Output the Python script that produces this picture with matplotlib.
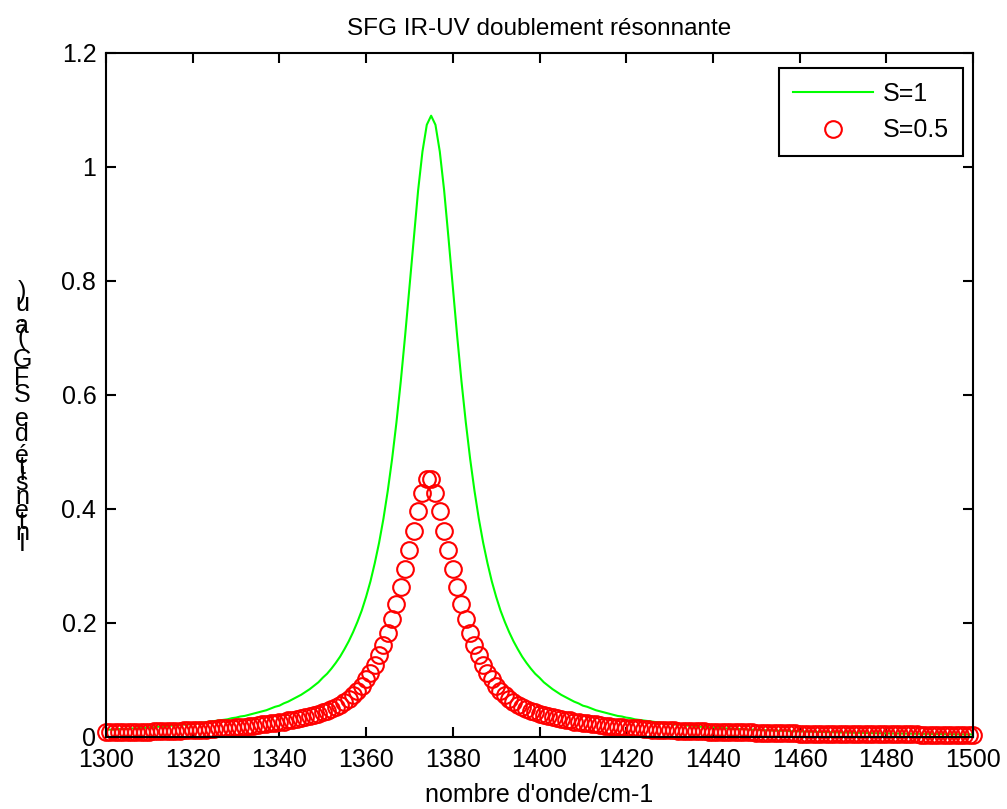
import numpy as np
import matplotlib.pyplot as plt
from matplotlib.font_manager import FontProperties

plt.rcParams['font.family'] = ['Liberation Sans', 'DejaVu Sans']

# nombre d'onde (cm-1), pas de 1
nombre_onde = np.arange(1300, 1501)

# intensite SFG pour S=1 (trait vert)
intensite_s1 = [
    0.013, 0.013, 0.013, 0.014, 0.014,
    0.014, 0.015, 0.015, 0.016, 0.016, 0.017, 0.017, 0.018, 0.018, 0.019,
    0.020, 0.020, 0.021, 0.022, 0.022, 0.023, 0.024, 0.025, 0.026, 0.027,
    0.028, 0.029, 0.030, 0.031, 0.033, 0.034, 0.036, 0.037, 0.039, 0.041,
    0.043, 0.045, 0.047, 0.050, 0.053, 0.055, 0.059, 0.062, 0.066, 0.070,
    0.074, 0.079, 0.084, 0.090, 0.096, 0.104, 0.111, 0.120, 0.130, 0.141,
    0.154, 0.168, 0.184, 0.202, 0.222, 0.246, 0.273, 0.305, 0.341, 0.383,
    0.432, 0.488, 0.552, 0.624, 0.704, 0.789, 0.876, 0.959, 1.027, 1.074,
    1.090,
    1.074, 1.027, 0.959, 0.876, 0.789, 0.704, 0.624, 0.552, 0.488, 0.432,
    0.383, 0.341, 0.305, 0.273, 0.246, 0.222, 0.202, 0.184, 0.168, 0.154,
    0.141, 0.130, 0.120, 0.111, 0.104, 0.096, 0.090, 0.084, 0.079, 0.074,
    0.070, 0.066, 0.062, 0.059, 0.055, 0.053, 0.050, 0.047, 0.045, 0.043,
    0.041, 0.039, 0.037, 0.036, 0.034, 0.033, 0.031, 0.030, 0.029, 0.028,
    0.027, 0.026, 0.025, 0.024, 0.023, 0.022, 0.022, 0.021, 0.020, 0.020,
    0.019, 0.018, 0.018, 0.017, 0.017, 0.016, 0.016, 0.015, 0.015, 0.014,
    0.014, 0.014, 0.013, 0.013, 0.013, 0.012, 0.012, 0.012, 0.011, 0.011,
    0.011, 0.011, 0.010, 0.010, 0.010, 0.0096, 0.0094, 0.0092, 0.0090, 0.0088,
    0.0086, 0.0084, 0.0082, 0.0080, 0.0079, 0.0077, 0.0075, 0.0074, 0.0072, 0.0071,
    0.0070, 0.0068, 0.0067, 0.0065, 0.0064, 0.0063, 0.0062, 0.0061, 0.0060, 0.0059,
    0.0058, 0.0057, 0.0056, 0.0055, 0.0054, 0.0053, 0.0052, 0.0051, 0.0050, 0.0049,
    0.0048, 0.0048, 0.0047, 0.0046, 0.0046,
]

# intensite SFG pour S=0.5 (cercles rouges)
intensite_s05 = [
    0.008, 0.008, 0.008, 0.008, 0.008, 0.008, 0.009, 0.009, 0.009, 0.009,
    0.009, 0.010, 0.010, 0.010, 0.010, 0.011, 0.011, 0.011, 0.012, 0.012,
    0.012, 0.013, 0.013, 0.013, 0.014, 0.014, 0.015, 0.015, 0.016, 0.016,
    0.017, 0.018, 0.018, 0.019, 0.020, 0.021, 0.022, 0.023, 0.024, 0.025,
    0.026, 0.027, 0.029, 0.030, 0.032, 0.033, 0.035, 0.037, 0.039, 0.041,
    0.043, 0.046, 0.049, 0.053, 0.057, 0.062, 0.067, 0.074, 0.081, 0.090,
    0.101, 0.113, 0.127, 0.143, 0.161, 0.183, 0.207, 0.234, 0.263, 0.295,
    0.328, 0.361, 0.396, 0.428, 0.452,
    0.452, 0.428, 0.396, 0.361, 0.328, 0.295, 0.263, 0.234, 0.207, 0.183,
    0.161, 0.143, 0.127, 0.113, 0.101, 0.090, 0.081, 0.074, 0.067, 0.062,
    0.057, 0.053, 0.049, 0.046, 0.043, 0.041, 0.039, 0.037, 0.035, 0.033,
    0.032, 0.030, 0.029, 0.027, 0.026, 0.025, 0.024, 0.023, 0.022, 0.021,
    0.020, 0.019, 0.018, 0.018, 0.017, 0.016, 0.016, 0.015, 0.015, 0.014,
    0.014, 0.013, 0.013, 0.013, 0.012, 0.012, 0.012, 0.011, 0.011, 0.011,
    0.010, 0.010, 0.010, 0.010, 0.009, 0.009, 0.009, 0.009, 0.009, 0.008,
    0.008, 0.008, 0.008, 0.008, 0.008, 0.007, 0.007, 0.007, 0.007, 0.007,
    0.007, 0.007, 0.007, 0.007, 0.007, 0.006, 0.006, 0.006, 0.006, 0.006,
    0.006, 0.006, 0.006, 0.006, 0.006, 0.006, 0.006, 0.006, 0.005, 0.005,
    0.005, 0.005, 0.005, 0.005, 0.005, 0.005, 0.005, 0.005, 0.005, 0.005,
    0.005, 0.005, 0.005, 0.004, 0.004, 0.004, 0.004, 0.004, 0.004, 0.004,
    0.004, 0.004, 0.004, 0.004, 0.004, 0.004,
]

x_ticks = [1300, 1320, 1340, 1360, 1380, 1400, 1420, 1440, 1460, 1480, 1500]
y_ticks = [0, 0.2, 0.4, 0.6, 0.8, 1.0, 1.2]
y_tick_labels = ['0', '0.2', '0.4', '0.6', '0.8', '1', '1.2']

titre = "SFG IR-UV doublement résonnante"
label_x = "nombre d'onde/cm-1"
label_y = "Intensité de SFG (a.u)"

W, H = 1007, 809
fig = plt.figure(figsize=(W / 100, H / 100), dpi=100, facecolor='white')
ax = fig.add_axes([106 / W, 1 - 737 / H, 867 / W, 684 / H])

ax.plot(nombre_onde, intensite_s1, color='#00ff00', lw=1.5, label='S=1')
ax.plot(nombre_onde, intensite_s05, ls='none', marker='o', ms=12,
        mfc='none', mec='#ff0000', mew=1.5, label='S=0.5', clip_on=False)

ax.set_xlim(1300, 1500)
ax.set_ylim(0, 1.2)
ax.set_xticks(x_ticks)
ax.set_yticks(y_ticks)
ax.set_yticklabels(y_tick_labels)

# style "boite" avec graduations vers l'interieur sur les quatre cotes
for s in ax.spines.values():
    s.set_linewidth(1.5)
    s.set_color('black')
ax.tick_params(direction='in', length=7, width=1.5, top=True, right=True,
               labelsize=18, colors='black')
ax.tick_params(axis='x', pad=8)
ax.tick_params(axis='y', pad=7)

ax.set_title(titre, fontsize=17.5, pad=13)
ax.set_xlabel(label_x, fontsize=18, labelpad=8)

leg = ax.legend(loc='upper right', bbox_to_anchor=(0.9885, 0.978),
                borderaxespad=0, fontsize=18, handlelength=3.2,
                handletextpad=0.4, labelspacing=0.5, borderpad=0.55,
                numpoints=1, fancybox=False, framealpha=1)
leg.get_frame().set_edgecolor('black')
leg.get_frame().set_linewidth(1.5)

# label y: lettres droites empilees de bas en haut
fp = FontProperties(family='Liberation Sans', size=18)
renderer = fig.canvas.get_renderer()
w_ref = renderer.get_text_width_height_descent('I', fp, ismath=False)[0]

def avance(s):
    return renderer.get_text_width_height_descent(s + 'I', fp, ismath=False)[0] - w_ref

total = avance(label_y)
echelle = (548 - 288) / total
for i, ch in enumerate(label_y):
    if ch == ' ':
        continue
    centre = 548 - (avance(label_y[:i]) + avance(ch) / 2) * echelle
    fig.text(22 / W, 1 - centre / H, ch, fontproperties=fp,
             ha='center', va='center')

fig.savefig('out.png', dpi=100, facecolor='white')
